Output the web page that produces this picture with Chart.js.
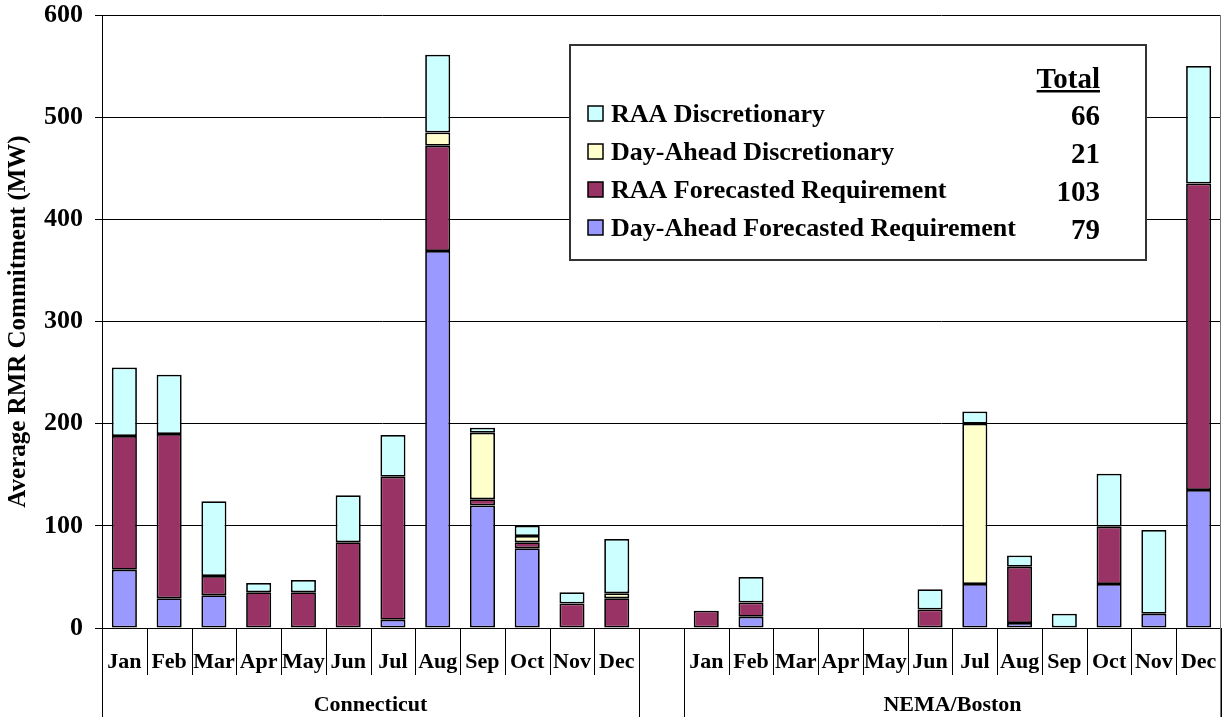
<!DOCTYPE html>
<html>
<head>
<meta charset="utf-8">
<script src="https://cdn.jsdelivr.net/npm/chart.js@4/dist/chart.umd.min.js"></script>
<style>
  html, body { margin: 0; padding: 0; background: #fff; }
  #wrap { width: 1225px; height: 717px; position: relative; }
</style>
</head>
<body>
<div id="wrap"><canvas id="c" width="1225" height="717"></canvas></div>
<script>
// ---- data ----
const months = ['Jan','Feb','Mar','Apr','May','Jun','Jul','Aug','Sep','Oct','Nov','Dec'];
const groups = ['Connecticut', 'NEMA/Boston'];
const categories = [...months, '', ...months];

const dayAheadForecastedCT   = [57, 29, 32, 0, 0, 0, 8, 369, 120, 78, 0, 0];
const dayAheadForecastedNEMA = [0, 11, 0, 0, 0, 0, 43, 5, 0, 43, 14, 135];
const raaForecastedCT        = [131, 161, 19, 35, 35, 84, 140, 103, 6, 6, 24, 29];
const raaForecastedNEMA      = [17, 14, 0, 0, 0, 18, 0, 55, 0, 56, 0, 300];
const dayAheadDiscCT         = [0, 0, 0, 0, 0, 0, 0, 13, 65, 6, 0, 5];
const dayAheadDiscNEMA       = [0, 0, 0, 0, 0, 0, 157, 0, 0, 0, 0, 0];
const raaDiscCT              = [67, 58, 73, 9, 12, 46, 41, 76, 5, 10, 11, 53];
const raaDiscNEMA            = [0, 25, 0, 0, 0, 20, 12, 11, 14, 52, 82, 115];

const seriesNames = ['Day-Ahead Forecasted Requirement', 'RAA Forecasted Requirement', 'Day-Ahead Discretionary', 'RAA Discretionary'];
const legendTotals = [79, 103, 21, 66];   // "Total" column, same order as seriesNames
const yTicks = [0, 100, 200, 300, 400, 500, 600];
const yTitle = 'Average RMR Commitment (MW)';

// ---- build ----
const join = (a, b) => [...a, null, ...b].map(v => (v ? v : null));
const colors = ['#9999FF', '#993366', '#FFFFCC', '#CCFFFF'];
const serif = "'Liberation Serif', 'Times New Roman', serif";

const seriesData = [
  join(dayAheadForecastedCT, dayAheadForecastedNEMA),
  join(raaForecastedCT, raaForecastedNEMA),
  join(dayAheadDiscCT, dayAheadDiscNEMA),
  join(raaDiscCT, raaDiscNEMA)
];

const datasets = seriesNames.map((name, i) => ({
  label: name,
  data: seriesData[i],
  backgroundColor: colors[i],
  borderColor: '#000',
  borderWidth: 1.75,
  borderSkipped: false,
  barPercentage: 0.56,
  categoryPercentage: 1.0
}));

const decorPlugin = {
  id: 'decor',
  afterDraw(chart) {
    const ctx = chart.ctx;
    const xs = chart.scales.x;
    const area = chart.chartArea;
    const H = chart.height;
    const step = xs.getPixelForValue(1) - xs.getPixelForValue(0);
    const boundary = k => xs.getPixelForValue(0) - step / 2 + k * step;
    const n = categories.length;
    ctx.save();
    ctx.strokeStyle = '#000';
    ctx.lineWidth = 1;
    // category separators
    for (let k = 0; k <= n; k++) {
      const x = Math.round(boundary(k)) + 0.5;
      const full = (k === 0 || k === 12 || k === 13 || k === n);
      ctx.beginPath();
      ctx.moveTo(x, area.bottom);
      ctx.lineTo(x, full ? H : area.bottom + 47);
      ctx.stroke();
    }
    // right border of plot area
    ctx.beginPath();
    ctx.moveTo(Math.round(area.right) - 0.5, area.top);
    ctx.lineTo(Math.round(area.right) - 0.5, H);
    ctx.strokeStyle = '#777';
    ctx.stroke();
    // group labels
    ctx.fillStyle = '#000';
    ctx.font = 'bold 22px ' + serif;
    ctx.textAlign = 'center';
    ctx.textBaseline = 'middle';
    ctx.fillText(groups[0], (boundary(0) + boundary(12)) / 2, area.bottom + 77);
    ctx.fillText(groups[1], (boundary(13) + boundary(n)) / 2, area.bottom + 77);

    // legend box
    const lx = 570, ly = 45, lw = 576, lh = 215;
    ctx.fillStyle = '#fff';
    ctx.fillRect(lx, ly, lw, lh);
    ctx.strokeStyle = '#333';
    ctx.lineWidth = 2;
    ctx.strokeRect(lx, ly, lw, lh);
    const rightX = 1100;
    ctx.textBaseline = 'alphabetic';
    ctx.fillStyle = '#000';
    ctx.font = 'bold 29px ' + serif;
    ctx.textAlign = 'right';
    ctx.fillText('Total', rightX, 88);
    const tw = ctx.measureText('Total').width;
    ctx.fillRect(rightX - tw, 90, tw, 2.5);
    const order = [3, 2, 1, 0];
    order.forEach((si, row) => {
      const base = 122 + row * 38;
      ctx.fillStyle = colors[si];
      ctx.fillRect(588, base - 16, 15, 15);
      ctx.strokeStyle = '#000';
      ctx.lineWidth = 1.5;
      ctx.strokeRect(588, base - 16, 15, 15);
      ctx.fillStyle = '#000';
      ctx.font = 'bold 26px ' + serif;
      ctx.textAlign = 'left';
      ctx.fillText(seriesNames[si], 611, base);
      ctx.font = 'bold 29px ' + serif;
      ctx.textAlign = 'right';
      ctx.fillText(String(legendTotals[si]), rightX, base + 3);
    });
    ctx.restore();
  }
};

new Chart(document.getElementById('c'), {
  type: 'bar',
  data: { labels: categories, datasets },
  options: {
    responsive: false,
    animation: false,
    events: [],
    layout: { padding: { top: 15, right: 4, bottom: 0, left: 0 } },
    plugins: { legend: { display: false }, tooltip: { enabled: false } },
    scales: {
      x: {
        stacked: true,
        grid: { display: false, drawTicks: false },
        border: { display: true, color: '#000', width: 1 },
        ticks: {
          autoSkip: false, maxRotation: 0, minRotation: 0, padding: 21,
          color: '#000', font: { family: serif, size: 22, weight: 'bold' }
        },
        afterFit(scale) { scale.height = 89; scale.paddingLeft = 0; scale.paddingRight = 0; }
      },
      y: {
        stacked: true,
        min: 0, max: 600,
        afterBuildTicks(scale) { scale.ticks = yTicks.map(v => ({ value: v })); },
        grid: { color: '#000', lineWidth: 1, drawTicks: true, tickLength: 7 },
        border: { display: true, color: '#000', width: 1 },
        ticks: {
          padding: 12, color: '#000',
          font: { family: serif, size: 26, weight: 'bold' }
        },
        title: {
          display: true, text: yTitle, color: '#000',
          font: { family: serif, size: 25, weight: 'bold' },
          padding: { top: 4, bottom: 0 }
        },
        afterFit(scale) { scale.width = 102; scale.paddingTop = 0; scale.paddingBottom = 0; }
      }
    }
  },
  plugins: [decorPlugin]
});
</script>
</body>
</html>
